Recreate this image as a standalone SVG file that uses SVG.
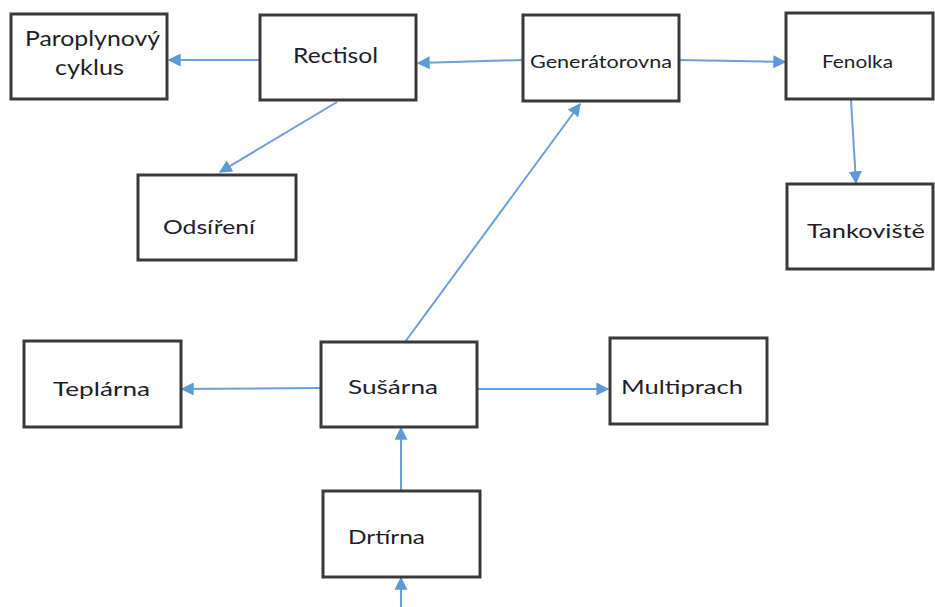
<svg xmlns="http://www.w3.org/2000/svg" width="935" height="607" viewBox="0 0 935 607">
<style>
.box{fill:#fff;stroke:#3a3a3a;stroke-width:3}
.t{font-family:Lato,"Open Sans",sans-serif;fill:#1e1e2a}
.c{stroke:#6a9fd8;stroke-width:2;fill:none;marker-end:url(#ah)}
</style>
<defs>
<marker id="ah" viewBox="0 0 10 10" refX="9" refY="5" markerWidth="6.5" markerHeight="6.5" orient="auto" markerUnits="strokeWidth">
<path d="M0,0 L10,5 L0,10 z" fill="#5b9bd5"/>
</marker>
</defs>
<rect width="935" height="607" fill="#fff"/>
<g id="connectors">
<line class="c" x1="260" y1="60" x2="169" y2="60"/>
<line class="c" x1="523" y1="60" x2="418" y2="63"/>
<line class="c" x1="679" y1="60" x2="785" y2="62"/>
<line class="c" x1="337" y1="102" x2="220" y2="172"/>
<line class="c" x1="851" y1="100" x2="856" y2="183"/>
<line class="c" x1="405" y1="342" x2="580" y2="104"/>
<line class="c" x1="321" y1="388" x2="182" y2="389"/>
<line class="c" x1="477" y1="389" x2="608" y2="389"/>
<line class="c" x1="401" y1="491" x2="401" y2="428"/>
<line class="c" x1="401" y1="607" x2="401" y2="578"/>
</g>
<g id="paroplynovy">
<rect class="box" x="11" y="14" width="156" height="85"/>
<text class="t" x="25" y="46" font-size="21" textLength="135" lengthAdjust="spacingAndGlyphs">Paroplynový</text>
<text class="t" x="55" y="75" font-size="21" textLength="69" lengthAdjust="spacingAndGlyphs">cyklus</text>
</g>
<g id="rectisol">
<rect class="box" x="260" y="15" width="156" height="85"/>
<text class="t" x="293" y="63" font-size="21" textLength="85" lengthAdjust="spacingAndGlyphs">Rectisol</text>
</g>
<g id="generatorovna">
<rect class="box" x="523" y="15" width="156" height="86"/>
<text class="t" x="530" y="68" font-size="17" textLength="142" lengthAdjust="spacingAndGlyphs">Generátorovna</text>
</g>
<g id="fenolka">
<rect class="box" x="786" y="13" width="147" height="86"/>
<text class="t" x="822" y="68" font-size="17" textLength="71" lengthAdjust="spacingAndGlyphs">Fenolka</text>
</g>
<g id="tankoviste">
<rect class="box" x="787" y="184" width="146" height="85"/>
<text class="t" x="807" y="238" font-size="20" textLength="118" lengthAdjust="spacingAndGlyphs">Tankoviště</text>
</g>
<g id="odsireni">
<rect class="box" x="138" y="175" width="158" height="85"/>
<text class="t" x="163" y="234" font-size="20" textLength="92" lengthAdjust="spacingAndGlyphs">Odsíření</text>
</g>
<g id="teplarna">
<rect class="box" x="24" y="341" width="157" height="86"/>
<text class="t" x="53" y="396" font-size="20" textLength="97" lengthAdjust="spacingAndGlyphs">Teplárna</text>
</g>
<g id="susarna">
<rect class="box" x="321" y="342" width="156" height="85"/>
<text class="t" x="348" y="394" font-size="20" textLength="90" lengthAdjust="spacingAndGlyphs">Sušárna</text>
</g>
<g id="multiprach">
<rect class="box" x="610" y="338" width="157" height="86"/>
<text class="t" x="621" y="394" font-size="20" textLength="122" lengthAdjust="spacingAndGlyphs">Multiprach</text>
</g>
<g id="drtirna">
<rect class="box" x="323" y="491" width="157" height="86"/>
<text class="t" x="348" y="544" font-size="20" textLength="77" lengthAdjust="spacingAndGlyphs">Drtírna</text>
</g>
</svg>
